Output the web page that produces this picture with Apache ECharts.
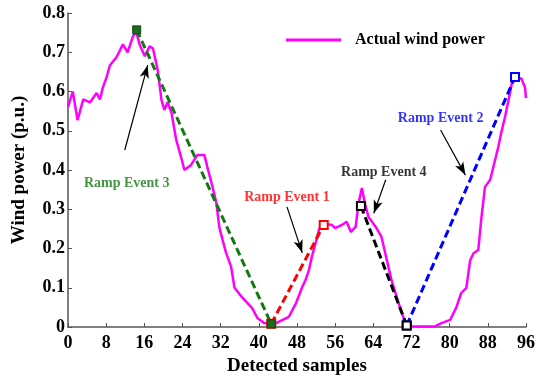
<!DOCTYPE html>
<html><head><meta charset="utf-8">
<script src="https://cdn.jsdelivr.net/npm/echarts@6/dist/echarts.min.js"></script>
<style>html,body{margin:0;padding:0;background:#fff}#c{width:538px;height:382px}</style>
</head><body><div id="c"></div>
<script>
// ---- data ----
var windX = [0,1,2,3.2,4.6,6,6.7,7.3,8.1,8.8,10.2,11.5,12.5,13.6,14.3,15,16.1,17.1,17.8,18.8,19.6,20.2,20.9,21.7,22.7,23.7,24.4,25.8,27.1,28.6,29.2,30.3,31.1,31.7,32.4,33.1,34.2,34.9,36.6,38.6,39.7,41.1,42.5,43.6,46.3,47.8,49.1,49.8,50.5,51.1,51.9,52.6,53.2,55.3,56,57.4,58.4,59.3,60.3,60.9,61.6,62.4,63,64.5,65.7,66.5,67.8,69.3,70.7,72,75,77,78.3,80.1,81.4,82.4,83.5,84.3,85,86,86.6,87.4,88.5,89.5,90.2,90.8,91.6,92.2,92.9,93.3,94.3,95,95.8,96];
var windY = [0.56,0.60,0.527,0.58,0.572,0.596,0.58,0.61,0.637,0.667,0.688,0.72,0.70,0.74,0.752,0.72,0.69,0.715,0.71,0.655,0.578,0.553,0.573,0.545,0.476,0.433,0.40,0.413,0.438,0.438,0.408,0.357,0.316,0.255,0.222,0.19,0.153,0.10,0.074,0.048,0.023,0.01,0.008,0.01,0.026,0.061,0.102,0.12,0.145,0.178,0.214,0.247,0.265,0.26,0.252,0.26,0.268,0.242,0.255,0.315,0.354,0.306,0.28,0.255,0.23,0.188,0.12,0.061,0.01,0.002,0.001,0.002,0.01,0.018,0.05,0.086,0.10,0.17,0.188,0.196,0.272,0.357,0.375,0.425,0.459,0.494,0.535,0.57,0.612,0.642,0.63,0.634,0.61,0.583];

var rampNames = ['Ramp Event 1','Ramp Event 2','Ramp Event 3','Ramp Event 4'];
var rampColors = ['#ff0000','#0000ff','#137a13','#000000'];
var rampStart = [[42.6,0.008],[71.0,0.004],[14.4,0.757],[61.4,0.308]];
var rampEnd   = [[53.6,0.260],[93.7,0.637],[42.6,0.008],[71.0,0.004]];
var labelPos  = [[45.9,0.329],[78.1,0.532],[12.3,0.367],[66.2,0.395]];
var arrowTail = [[45.9,0.306],[78.1,0.502],[11.9,0.451],[66.6,0.375]];
var arrowTip  = [[49.1,0.189],[83.3,0.387],[16.7,0.667],[64.1,0.290]];

var xTicks = {min:0,max:96,interval:8};
var yTicks = {min:0,max:0.8,interval:0.1};

// ---- chart ----
var font = '"Liberation Serif","Times New Roman",serif';
var series = [];
series.push({
  name:'Actual wind power', type:'line', showSymbol:false, z:3,
  data: windX.map(function(x,i){return [x,windY[i]];}),
  lineStyle:{color:'#ff00ff',width:2.5}, itemStyle:{color:'#ff00ff'}
});
var order=[0,2,1,3];
order.forEach(function(i){
  var filled = (i===2);
  series.push({
    name:rampNames[i], type:'line', z:4,
    data:[rampStart[i], rampEnd[i]],
    symbol: filled ? 'rect' : 'emptyRect', symbolSize: 8,
    lineStyle:{color:rampColors[i],width:3,type:[8,4]},
    itemStyle:{color: filled ? '#1a6b1a' : rampColors[i], borderColor: filled ? '#0b4a0b' : rampColors[i], borderWidth: filled?1:2},
    animation:false
  });
});
// arrows
series.push({
  type:'line', data:[], silent:true,
  markLine:{
    silent:true, animation:false,
    symbol:['none','arrow'], symbolSize:[7,13],
    label:{show:false},
    lineStyle:{color:'#000',width:1.2,type:'solid'},
    data: arrowTail.map(function(t,i){return [{coord:t},{coord:arrowTip[i]}];})
  }
});
// labels
series.push({
  type:'scatter', symbolSize:0, silent:true,
  data: labelPos.map(function(p,i){return {value:[p[0],p[1]], label:{color:rampColors[i], formatter: rampNames[i]}};}),
  label:{show:true, position:'inside', fontFamily:font, fontWeight:'bold', fontSize:14}
});

var chart = echarts.init(document.getElementById('c'));
chart.setOption({
  animation:false,
  backgroundColor:'#fff',
  grid:{left:68,right:10,top:13,bottom:55},
  legend:{
    data:[{name:'Actual wind power', icon:'rect'}],
    left:281, top:27, itemWidth:55, itemHeight:3,
    textStyle:{fontFamily:font,fontWeight:'bold',fontSize:16,color:'#000',padding:[0,0,0,9]}
  },
  xAxis:{
    type:'value', min:xTicks.min, max:xTicks.max, interval:xTicks.interval,
    name:'Detected samples', nameLocation:'middle', nameGap:29,
    nameTextStyle:{fontFamily:font,fontWeight:'bold',fontSize:19,color:'#000'},
    axisLine:{show:true,lineStyle:{color:'#555',width:1.5}},
    axisTick:{show:true,inside:true,length:4,lineStyle:{color:'#555'}},
    axisLabel:{fontFamily:font,fontWeight:'bold',fontSize:18,color:'#000',margin:7},
    splitLine:{show:false}
  },
  yAxis:{
    type:'value', min:yTicks.min, max:yTicks.max, interval:yTicks.interval,
    name:'Wind power (p.u.)', nameLocation:'middle', nameGap:39, nameRotate:90,
    nameTextStyle:{fontFamily:font,fontWeight:'bold',fontSize:19,color:'#000'},
    axisLine:{show:true,lineStyle:{color:'#555',width:1.5}},
    axisTick:{show:true,inside:true,length:4,lineStyle:{color:'#555'}},
    axisLabel:{fontFamily:font,fontWeight:'bold',fontSize:18,color:'#000',margin:3,
      formatter:function(v){return v===0?'0':v.toFixed(1);}},
    splitLine:{show:false}
  },
  series:series
});
</script></body></html>
